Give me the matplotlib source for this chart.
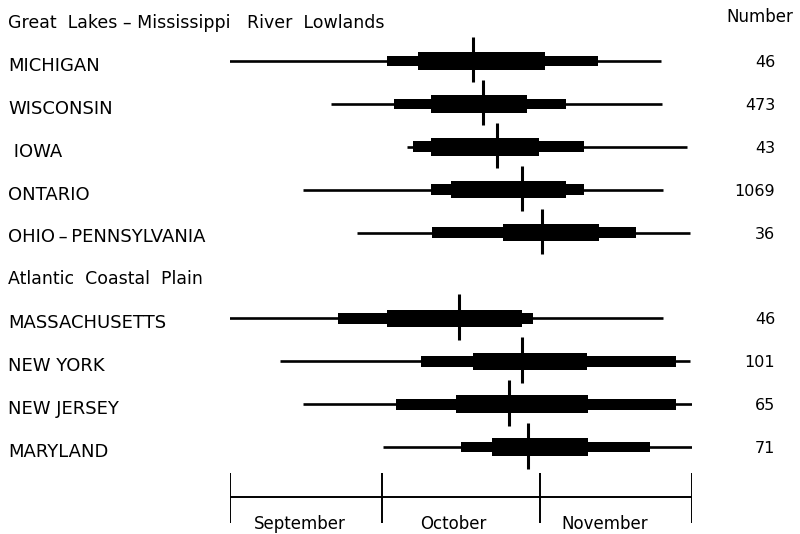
import matplotlib.pyplot as plt

plt.rcParams['font.family'] = ['DejaVu Sans']

# days counted from 1 September
states = ['MICHIGAN', 'WISCONSIN', ' IOWA', 'ONTARIO', 'OHIO\u2009\u2013\u2009PENNSYLVANIA',
          'MASSACHUSETTS', 'NEW YORK', 'NEW JERSEY', 'MARYLAND']
rows = [0, 1, 2, 3, 4, 6, 7, 8, 9]
numbers = ['46', '473', '43', '1069', '36', '46', '101', '65', '71']
range_lo = [-0.6, 19.9, 34.9, 14.4, 25.0, -0.6, 9.8, 14.4, 30.1]
range_hi = [84.9, 85.1, 90.0, 85.3, 90.6, 85.3, 90.6, 91.0, 91.0]
mid_lo = [30.9, 32.3, 36.0, 39.6, 39.8, 21.3, 37.6, 32.7, 45.5]
mid_hi = [72.5, 66.2, 69.7, 69.7, 80.0, 59.7, 87.8, 87.8, 82.7]
core_lo = [37.0, 39.6, 39.6, 43.5, 53.8, 30.9, 47.9, 44.5, 51.6]
core_hi = [62.0, 58.5, 60.9, 66.2, 72.7, 57.5, 70.3, 70.5, 70.5]
medians = [47.9, 49.8, 52.6, 57.5, 61.5, 45.1, 57.5, 55.0, 58.7]

title = 'Great  Lakes \u2013 Mississippi   River  Lowlands'
subgroup = 'Atlantic  Coastal  Plain'
month_edges = [0, 30, 61, 91]
months = ['September', 'October', 'November']
month_pos = [13.7, 44.0, 73.8]

fig = plt.figure(figsize=(8, 5.34), dpi=100)
ax = fig.add_axes([230 / 800, 0, 462 / 800, 1])
ax.set_xlim(0, 91)
# row k sits at pixel 61 + 42.9 k from the top
ax.set_ylim((534 - 61) / 42.9, -61 / 42.9)
ax.axis('off')

# figure-pixel x to day units
def px(x):
    return (x - 230) / 462 * 91

for i, r in enumerate(rows):
    ax.hlines(r, range_lo[i], range_hi[i], color='black', lw=1.9)
    ax.barh(r, mid_hi[i] - mid_lo[i], left=mid_lo[i], height=0.25, color='black')
    ax.barh(r, core_hi[i] - core_lo[i], left=core_lo[i], height=0.41, color='black')
    ax.vlines(medians[i], r - 0.56, r + 0.5, color='black', lw=2.2)
    ax.text(px(8), r + 0.23, states[i], fontsize=13,
            ha='left', va='baseline', clip_on=False)
    ax.text(px(775), r + 0.14, numbers[i], fontsize=11.5,
            ha='right', va='baseline', clip_on=False)

ax.text(px(8), -0.77, title, fontsize=12.5,
        ha='left', va='baseline', clip_on=False)
ax.text(px(8), 5 + 0.2, subgroup, fontsize=12.5,
        ha='left', va='baseline', clip_on=False)
ax.text(px(793), -0.91, 'Number', fontsize=12,
        ha='right', va='baseline', clip_on=False)

# month axis
axis_y = 10.16
ax.hlines(axis_y, month_edges[0], month_edges[-1], color='black', lw=1.4)
ax.vlines(month_edges, axis_y - 0.56, axis_y + 0.6, color='black', lw=1.4)
for m, p in zip(months, month_pos):
    ax.text(p, axis_y + 0.76, m, fontsize=12, ha='center', va='baseline')

fig.savefig('out.png', dpi=100)
